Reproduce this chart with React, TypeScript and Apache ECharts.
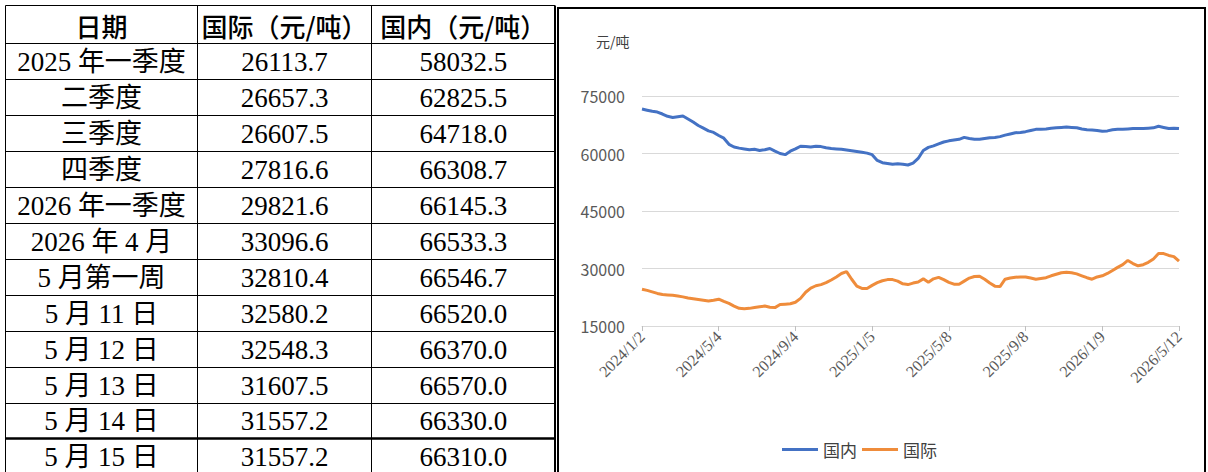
import React, { useEffect, useRef } from 'react';
import * as echarts from 'echarts';

// ---------- Table data ----------
const tableHeaders = ['日期', '国际（元/吨）', '国内（元/吨）'];
const tablePeriods = [
  '2025 年一季度', '二季度', '三季度', '四季度', '2026 年一季度', '2026 年 4 月',
  '5 月第一周', '5 月 11 日', '5 月 12 日', '5 月 13 日', '5 月 14 日', '5 月 15 日',
];
const tableIntl = [26113.7, 26657.3, 26607.5, 27816.6, 29821.6, 33096.6, 32810.4, 32580.2, 32548.3, 31607.5, 31557.2, 31557.2];
const tableDom = [58032.5, 62825.5, 64718.0, 66308.7, 66145.3, 66533.3, 66546.7, 66520.0, 66370.0, 66570.0, 66330.0, 66310.0];

// ---------- Chart data ----------
const tickLabels = ['2024/1/2', '2024/5/4', '2024/9/4', '2025/1/5', '2025/5/8', '2025/9/8', '2026/1/9', '2026/5/12'];
const pointsPerTick = 15;
const seriesNames = ['国内', '国际'];
const domestic = [
  71600, 71300, 71000, 70800, 70300, 69700, 69400, 69600, 69800, 69000, 68200, 67300, 66600, 65900, 65500,
  64700, 64000, 62400, 61700, 61400, 61200, 61000, 61100, 60800, 61000, 61300, 60600, 60000, 59700, 60600,
  61200, 61900, 61800, 61700, 61900, 61800, 61500, 61300, 61200, 61100, 60900, 60700, 60500, 60300, 60100,
  59700, 58200, 57600, 57400, 57200, 57300, 57200, 57000, 57500, 58700, 60800, 61600, 62000, 62500, 63000,
  63300, 63500, 63700, 64200, 63900, 63700, 63700, 63900, 64100, 64200, 64400, 64800, 65100, 65400, 65500,
  65700, 66000, 66300, 66300, 66400, 66600, 66700, 66800, 66900, 66800, 66700, 66400, 66200, 66100, 66000,
  65800, 65900, 66200, 66300, 66300, 66400, 66500, 66500, 66500, 66600, 66700, 67100, 66800, 66500, 66600,
  66500,
];
const international = [
  24600, 24300, 23900, 23500, 23200, 23100, 23000, 22800, 22600, 22300, 22100, 21900, 21700, 21500, 21700,
  22000, 21400, 20900, 20200, 19600, 19500, 19600, 19800, 20000, 20200, 19900, 19800, 20600, 20700, 20800,
  21200, 22200, 23800, 24900, 25500, 25800, 26300, 27000, 27800, 28700, 29200, 27200, 25400, 24800, 24800,
  25600, 26300, 26800, 27100, 27100, 26700, 26000, 25800, 26200, 26500, 27300, 26400, 27300, 27700, 27100,
  26400, 25900, 25900, 26700, 27500, 27900, 28000, 27200, 26200, 25400, 25300, 27200, 27500, 27700, 27800,
  27800, 27500, 27200, 27400, 27600, 28100, 28500, 28900, 29000, 28900, 28600, 28100, 27600, 27200, 27800,
  28100, 28700, 29500, 30300, 31000, 32100, 31300, 30700, 31000, 31600, 32500, 33900, 33900, 33400, 33100,
  31900,
];

const BLUE = '#4472C4';
const ORANGE = '#EF8C3B';
const CJK = "'Noto Sans CJK SC', 'Noto Sans', sans-serif";
const SERIF = "'Liberation Serif', 'Noto Sans CJK SC', serif";

function buildTable(): any[] {
  const els: any[] = [];
  const colX = [5.5, 197.5, 371.5, 555];
  const top = 5.5;
  const headerBottom = 43.5;
  const rowH = 35.9;
  const bottom = 472;
  const colCenters = [(colX[0] + colX[1]) / 2, (colX[1] + colX[2]) / 2, (colX[2] + colX[3]) / 2];

  const hl = (y: number, w = 1) =>
    els.push({ type: 'line', shape: { x1: colX[0], y1: y, x2: colX[3], y2: y }, style: { stroke: '#000', lineWidth: w }, silent: true });
  hl(top);
  hl(headerBottom);
  for (let k = 1; k < tablePeriods.length; k++) {
    const y = Math.round(headerBottom + k * rowH) + 0.5;
    hl(y, k === tablePeriods.length - 1 ? 2.5 : 1);
  }
  colX.forEach((x, i) => {
    els.push({
      type: 'line',
      shape: { x1: x, y1: top, x2: x, y2: bottom },
      style: { stroke: '#000', lineWidth: i === 3 ? 2 : 1 },
      silent: true,
    });
  });
  tableHeaders.forEach((h, i) => {
    els.push({
      type: 'text',
      x: colCenters[i],
      y: (top + headerBottom) / 2 + 1,
      style: { text: h, fill: '#000', fontSize: 26, fontFamily: CJK, fontWeight: 500, align: 'center', verticalAlign: 'middle' },
      silent: true,
    });
  });
  tablePeriods.forEach((p, r) => {
    const cy = headerBottom + (r + 0.5) * rowH + 1;
    const cells = [p, tableIntl[r].toFixed(1), tableDom[r].toFixed(1)];
    cells.forEach((c, i) => {
      els.push({
        type: 'text',
        x: colCenters[i],
        y: cy,
        style: { text: c, fill: '#000', fontSize: 27, fontFamily: SERIF, align: 'center', verticalAlign: 'middle' },
        silent: true,
      });
    });
  });
  return els;
}

export default function App() {
  const ref = useRef<HTMLDivElement>(null);
  useEffect(() => {
    if (!ref.current) return;
    const chart = echarts.init(ref.current, undefined, { renderer: 'svg' });
    const maxIndex = (tickLabels.length - 1) * pointsPerTick;
    chart.setOption({
      animation: false,
      backgroundColor: '#fff',
      grid: { left: 642, right: 29, top: 96, bottom: 146, containLabel: false },
      xAxis: {
        type: 'value',
        min: 0,
        max: maxIndex,
        interval: pointsPerTick,
        axisLine: { show: true, onZero: false, lineStyle: { color: '#d9d9d9', width: 1 } },
        axisTick: { show: true, length: 5, lineStyle: { color: '#bfbfbf' } },
        splitLine: { show: false },
        axisLabel: {
          rotate: 45,
          margin: 8,
          color: '#595959',
          fontSize: 16,
          fontFamily: SERIF,
          formatter: (v: number) => tickLabels[Math.round(v / pointsPerTick)] ?? '',
        },
      },
      yAxis: {
        type: 'value',
        min: 15000,
        max: 75000,
        interval: 15000,
        axisLine: { show: false },
        axisTick: { show: false },
        splitLine: { lineStyle: { color: '#d9d9d9', width: 1 } },
        axisLabel: {
          margin: 17,
          color: '#595959',
          fontSize: 16,
          fontFamily: CJK,
          formatter: (v: number) => String(v),
        },
      },
      legend: {
        left: 777,
        top: 436,
        icon: 'rect',
        itemWidth: 36,
        itemHeight: 3,
        itemGap: 5,
        data: seriesNames,
        textStyle: { fontSize: 17, color: '#404040', fontFamily: CJK },
      },
      graphic: [
        ...buildTable(),
        {
          type: 'rect',
          shape: { x: 558, y: 8, width: 647, height: 480 },
          style: { fill: 'none', stroke: '#000', lineWidth: 2 },
          silent: true,
        },
        {
          type: 'text',
          x: 596,
          y: 41,
          style: { text: '元/吨', fill: '#404040', fontSize: 14, fontFamily: CJK, align: 'left', verticalAlign: 'middle' },
          silent: true,
        },
      ],
      series: [
        {
          name: seriesNames[0],
          type: 'line',
          data: domestic.map((v, i) => [i, v]),
          showSymbol: false,
          lineStyle: { width: 3, color: BLUE },
          itemStyle: { color: BLUE },
        },
        {
          name: seriesNames[1],
          type: 'line',
          data: international.map((v, i) => [i, v]),
          showSymbol: false,
          lineStyle: { width: 3, color: ORANGE },
          itemStyle: { color: ORANGE },
        },
      ],
    });
    return () => chart.dispose();
  }, []);
  return (
    <div
      ref={ref}
      style={{ position: 'fixed', left: 0, top: 0, width: 1208, height: 472, background: '#fff' }}
    />
  );
}
